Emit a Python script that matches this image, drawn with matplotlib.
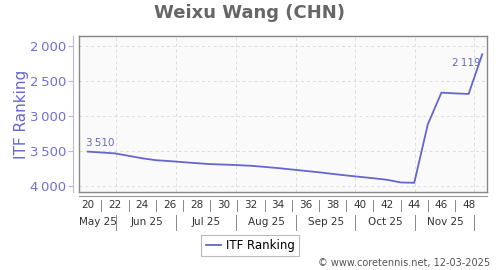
import matplotlib
matplotlib.use("Agg")
import matplotlib.pyplot as plt
from matplotlib.transforms import blended_transform_factory

weeks = list(range(20, 50))
ranking = [3510, 3522, 3535, 3570, 3605, 3632, 3645, 3660, 3675, 3688,
           3695, 3702, 3712, 3728, 3745, 3765, 3785, 3805, 3828, 3850,
           3870, 3890, 3912, 3950, 3955, 3119, 2667, 2678, 2686, 2119]
week_labels = list(range(20, 49, 2))
month_labels = ["May 25", "Jun 25", "Jul 25", "Aug 25", "Sep 25", "Oct 25", "Nov 25"]
month_bounds = [22.06, 26.47, 30.88, 35.30, 39.65, 44.04, 48.40]
yticks = [2000, 2500, 3000, 3500, 4000]

LINE = "#6666cc"
TICK = "#7070d0"

fig = plt.figure(figsize=(5, 2.7), dpi=100)
ax = fig.add_axes([0.158, 0.289, 0.816, 0.578])
ax.set_facecolor("#fafafa")

ax.plot(weeks, ranking, color=LINE, lw=1.3, label="ITF Ranking", zorder=3)
ax.set_xlim(19.35, 49.35)
ax.set_ylim(4086, 1857)

# grid
for y in yticks:
    ax.axhline(y, color="#dddddd", lw=0.7, ls=(0, (3, 3)), zorder=1)
for b in month_bounds:
    ax.axvline(b, color="#dddddd", lw=0.7, ls=(0, (3, 3)), zorder=1)

# frame
for s in ["top", "right"]:
    ax.spines[s].set_color("#888888")
    ax.spines[s].set_linewidth(1.0)
ax.spines["left"].set_position(("outward", 4.3))
ax.spines["left"].set_color("#b8b8e8")
ax.spines["bottom"].set_position(("outward", 3.2))
ax.spines["bottom"].set_color("#999999")
ax.plot([0, 0], [0, 1], transform=ax.transAxes, color="#888888", lw=1.0, clip_on=False, zorder=5)
ax.plot([0, 1], [0, 0], transform=ax.transAxes, color="#888888", lw=1.0, clip_on=False, zorder=5)

ax.set_yticks(yticks)
ax.set_yticklabels([f"{v // 1000}\u2009{v % 1000:03d}" for v in yticks])
ax.tick_params(axis="y", colors="#b8b8e8", labelcolor=TICK, labelsize=9.5, length=3.8, pad=1)
ax.set_xticks([])

ax.set_ylabel("ITF Ranking", color=LINE, fontsize=11, labelpad=1)

# x-axis labels
tr = blended_transform_factory(ax.transData, ax.transAxes)
for w in week_labels:
    ax.text(w, -0.085, str(w), transform=tr, ha="center", va="center", fontsize=7.5, color="#333333")
for w in week_labels[:-1]:
    ax.plot([w + 1, w + 1], [-0.05, -0.12], transform=tr, color="#888888", lw=0.7, clip_on=False)
starts = [19.35] + month_bounds[:-1]
for lab, a, b in zip(month_labels, starts, month_bounds):
    ax.text((a + b) / 2 + 0.05, -0.195, lab, transform=tr, ha="center", va="center", fontsize=7.5, color="#333333")
for b in month_bounds:
    ax.plot([b, b], [-0.145, -0.245], transform=tr, color="#888888", lw=0.7, clip_on=False)

# data labels
ax.annotate("3\u2009510", (weeks[0], ranking[0]), xytext=(-1, 2.5), textcoords="offset points",
            ha="left", va="bottom", fontsize=7.5, color=LINE)
ax.annotate("2\u2009119", (weeks[-1], ranking[-1]), xytext=(-1.5, -3), textcoords="offset points",
            ha="right", va="top", fontsize=7.5, color=LINE)

fig.text(0.5, 0.95, "Weixu Wang (CHN)", ha="center", va="center", fontsize=13,
         fontweight="bold", color="#666666")

leg = fig.legend(loc="center", bbox_to_anchor=(0.5, 0.092), fontsize=8.5, frameon=True,
                 fancybox=False, handlelength=1.3, handletextpad=0.4, borderpad=0.35,
                 borderaxespad=0)
leg.get_frame().set_edgecolor("#aaaaaa")
leg.get_frame().set_linewidth(0.8)

fig.text(0.98, 0.025, "\u00a9 www.coretennis.net, 12-03-2025", ha="right", va="center",
         fontsize=7, color="#555555")

fig.savefig("out.png", dpi=100)
